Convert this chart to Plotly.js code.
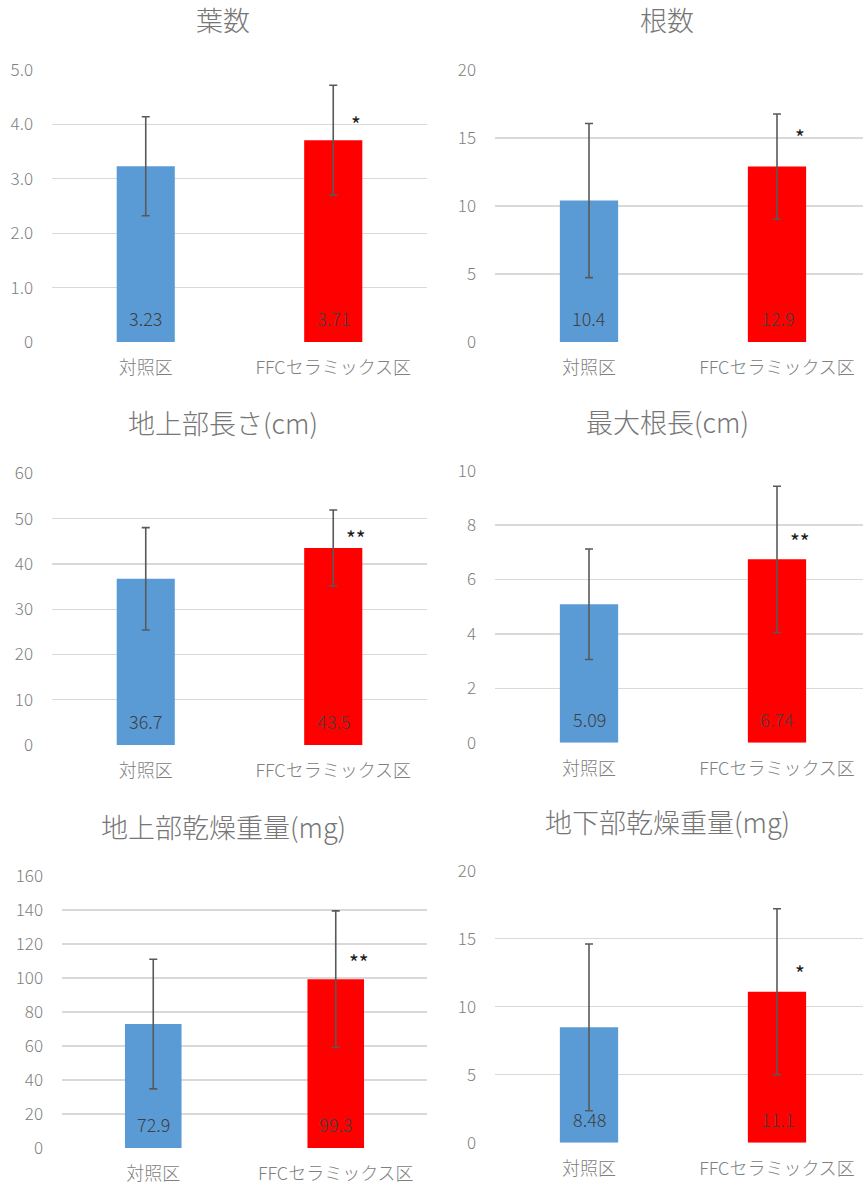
<!DOCTYPE html>
<html>
<head>
<meta charset="utf-8">
<script src="https://cdn.plot.ly/plotly-3.0.1.min.js"></script>
<style>html,body{margin:0;padding:0;background:#fff;}#chart{width:863px;height:1184px;}</style>
</head>
<body>
<div id="chart"></div>
<script>
// ---- data ----
const categories = ["対照区", "FFCセラミックス区"];
const titles = ["葉数", "根数", "地上部長さ(cm)", "最大根長(cm)", "地上部乾燥重量(mg)", "地下部乾燥重量(mg)"];
const leafCount = [3.23, 3.71];
const leafCountErr = [0.91, 1.01];
const rootCount = [10.4, 12.9];
const rootCountErr = [5.67, 3.87];
const shootLength = [36.7, 43.5];
const shootLengthErr = [11.3, 8.4];
const maxRootLength = [5.09, 6.74];
const maxRootLengthErr = [2.03, 2.69];
const shootDryWeight = [72.9, 99.3];
const shootDryWeightErr = [38.1, 40.2];
const rootDryWeight = [8.48, 11.1];
const rootDryWeightErr = [6.13, 6.1];
const sigMarks = ["*", "*", "**", "**", "**", "*"];
const yTickVals = [
  [0, 1, 2, 3, 4, 5],
  [0, 5, 10, 15, 20],
  [0, 10, 20, 30, 40, 50, 60],
  [0, 2, 4, 6, 8, 10],
  [0, 20, 40, 60, 80, 100, 120, 140, 160],
  [0, 5, 10, 15, 20]
];
const yTickLabels = [
  ["0", "1.0", "2.0", "3.0", "4.0", "5.0"],
  ["0", "5", "10", "15", "20"],
  ["0", "10", "20", "30", "40", "50", "60"],
  ["0", "2", "4", "6", "8", "10"],
  ["0", "20", "40", "60", "80", "100", "120", "140", "160"],
  ["0", "5", "10", "15", "20"]
];
const seriesValues = [leafCount, rootCount, shootLength, maxRootLength, shootDryWeight, rootDryWeight];
const seriesErrors = [leafCountErr, rootCountErr, shootLengthErr, maxRootLengthErr, shootDryWeightErr, rootDryWeightErr];

// ---- layout (pixel geometry) ----
const W = 863, H = 1184;
const boxes = [ // left, right, top, bottom of plot area in px
  [52, 427, 70, 342],
  [495, 863, 70, 342],
  [52, 427, 473.3, 745],
  [495, 863, 470.7, 742.7],
  [62, 427, 876, 1148],
  [495, 863, 870.7, 1142.7]
];
const catPx = [187.5, 188, 187.5, 188, 182.5, 188];
const titleY = [20, 20, 423, 421.7, 826.7, 821.7];
const titleX = [223, 667, 223, 667, 223, 667];
const sigShift = [22, 36, 16, 24, 23, 25];

const FONT = '"Noto Sans CJK JP", "Noto Sans", sans-serif';
const barColors = ["#5B9BD5", "#FF0000"];

const traces = [];
const layout = {
  width: W, height: H, autosize: false,
  margin: {l: 0, r: 0, t: 0, b: 0},
  paper_bgcolor: "#fff", plot_bgcolor: "#fff",
  showlegend: false,
  font: {family: FONT, color: "#595959"},
  annotations: []
};

for (let i = 0; i < 6; i++) {
  const n = i === 0 ? "" : String(i + 1);
  const [l, r, t, b] = boxes[i];
  const yMax = yTickVals[i][yTickVals[i].length - 1];
  traces.push({
    type: "bar",
    x: categories,
    y: seriesValues[i],
    xaxis: "x" + n, yaxis: "y" + n,
    width: 0.31,
    marker: {color: barColors, line: {width: 0}},
    error_y: {type: "data", array: seriesErrors[i], visible: true, color: "#595959", thickness: 1.6, width: 4},
    hoverinfo: "none"
  });
  layout["xaxis" + n] = {
    domain: [l / W, r / W],
    anchor: "y" + n,
    type: "category",
    range: [-0.5, -0.5 + (r - l) / catPx[i]],
    showgrid: false, zeroline: false, showline: false, ticks: "",
    tickfont: {size: 18, color: "#808080", family: FONT, weight: 300},
    ticklabelstandoff: 13,
    fixedrange: true
  };
  layout["yaxis" + n] = {
    domain: [1 - b / H, 1 - t / H],
    anchor: "x" + n,
    range: [0, yMax],
    tickvals: yTickVals[i], ticktext: yTickLabels[i],
    showgrid: true, gridcolor: "#D9D9D9", gridwidth: 1.3,
    zeroline: false, showline: false, ticks: "",
    tickfont: {size: 17, color: "#808080", family: FONT, weight: 300},
    ticklabelstandoff: 18,
    fixedrange: true
  };
  // title
  layout.annotations.push({
    text: titles[i], xref: "paper", yref: "paper",
    x: titleX[i] / W, y: 1 - titleY[i] / H, xanchor: "center", yanchor: "middle",
    showarrow: false, font: {size: 27, color: "#767676", family: FONT, weight: 300}
  });
  // data labels
  for (let j = 0; j < 2; j++) {
    layout.annotations.push({
      text: String(seriesValues[i][j]), xref: "x" + n, yref: "y" + n,
      x: categories[j], y: 0, xanchor: "center", yanchor: "middle", yshift: 24,
      showarrow: false, font: {size: 18, color: "#404040", family: FONT, weight: 300}
    });
  }
  // significance mark
  layout.annotations.push({
    text: sigMarks[i], xref: "x" + n, yref: "y" + n,
    x: categories[1], y: seriesValues[i][1], xanchor: "center", yanchor: "middle",
    xshift: 23, yshift: sigShift[i] - 6,
    showarrow: false, font: {size: 21, color: "#1a1a1a", family: FONT}
  });
}

Plotly.newPlot("chart", traces, layout, {displayModeBar: false, staticPlot: true});
</script>
</body>
</html>
